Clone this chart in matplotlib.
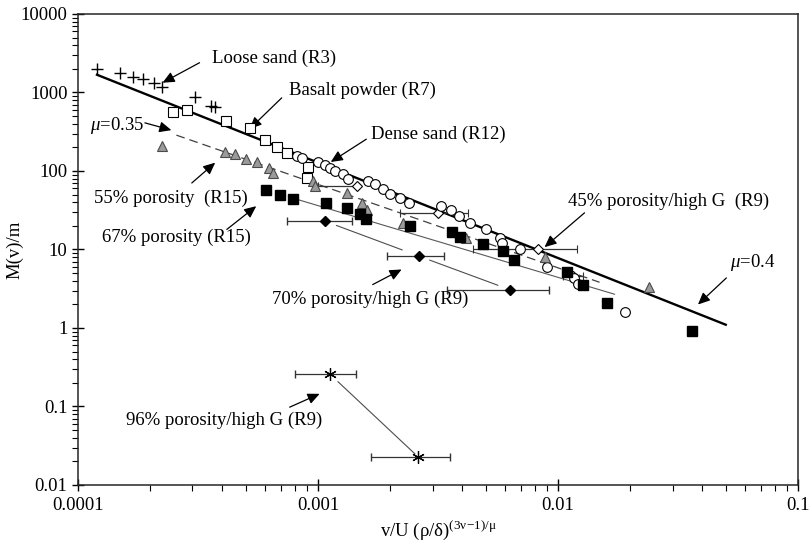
import matplotlib
matplotlib.use("Agg")
import matplotlib.pyplot as plt

plt.rcParams["font.family"] = ["Liberation Serif", "DejaVu Serif"]
plt.rcParams["mathtext.fontset"] = "custom"
plt.rcParams["mathtext.rm"] = "Liberation Serif"
plt.rcParams["mathtext.it"] = "Liberation Serif:italic"

# loose sand (R3)
loose_x = [1.20e-4, 1.49e-4, 1.70e-4, 1.87e-4, 2.07e-4, 2.24e-4, 3.06e-4, 3.59e-4, 3.72e-4]
loose_y = [1990, 1750, 1590, 1480, 1320, 1180, 864, 676, 662]

# basalt powder (R7)
basalt_x = [2.48e-4, 2.84e-4, 4.12e-4, 5.19e-4, 6.00e-4, 6.73e-4, 7.41e-4, 9.06e-4, 8.97e-4]
basalt_y = [567, 601, 435, 354, 249, 203, 170, 112, 81.5]

# dense sand (R12)
dense_x = [8.15e-4, 8.55e-4, 9.97e-4, 1.066e-3, 1.119e-3, 1.175e-3, 1.268e-3, 1.33e-3,
           1.61e-3, 1.72e-3, 1.86e-3, 1.99e-3, 2.19e-3, 2.39e-3, 3.24e-3, 3.57e-3,
           3.86e-3, 4.28e-3, 5.00e-3, 5.71e-3, 5.83e-3, 6.92e-3, 8.97e-3, 1.17e-2,
           1.21e-2, 1.90e-2]
dense_y = [155, 147, 130, 119, 109, 100, 91.6, 79.1, 74.5, 68.2, 58.9, 50.8, 45.2, 39.0,
           35.7, 31.8, 26.6, 21.7, 18.2, 13.9, 12.0, 10.1, 5.93, 4.29, 3.6, 1.58]

# 55% porosity (R15)
p55_x = [2.24e-4, 4.11e-4, 4.50e-4, 5.03e-4, 5.55e-4, 6.25e-4, 6.47e-4, 9.55e-4, 9.73e-4,
         1.318e-3, 1.53e-3, 1.60e-3, 2.26e-3, 4.12e-3, 8.79e-3, 2.39e-2]
p55_y = [208, 175, 165, 142, 129, 108, 92.9, 73.8, 64.3, 52.3, 39.4, 31.8, 21.7, 14.1, 8.09, 3.30]

# 67% porosity (R15)
p67_x = [6.10e-4, 6.92e-4, 7.87e-4, 1.077e-3, 1.326e-3, 1.49e-3, 1.59e-3, 2.41e-3, 3.60e-3,
         3.91e-3, 4.89e-3, 5.92e-3, 6.58e-3, 1.087e-2, 1.276e-2, 1.60e-2, 3.63e-2]
p67_y = [56.7, 48.9, 44.3, 39.4, 33.4, 28.0, 24.2, 19.8, 16.9, 14.4, 11.7, 9.5, 7.35, 5.09,
         3.57, 2.06, 0.905]

# 45% porosity / high G (R9)
p45_x = [1.45e-3, 3.16e-3, 8.26e-3, 1.16e-2]
p45_y = [64.3, 29.0, 10.0, 4.56]
p45_err_lo = [4.5e-4, 0.97e-3, 3.84e-3, 1.15e-3]
p45_err_hi = [0.0, 1.06e-3, 3.79e-3, 1.15e-3]

# 70% porosity / high G (R9)
p70_x = [1.066e-3, 2.64e-3, 6.29e-3]
p70_y = [23.0, 8.2, 3.08]
p70_err = [3.2e-4, 0.70e-3, 2.85e-3]

# 96% porosity / high G (R9)
p96_x = [1.12e-3, 2.61e-3]
p96_y = [0.259, 0.0229]
p96_err = [3.15e-4, 0.94e-3]

# fitted lines
mu04_x = [1.2e-4, 5.0e-2]
mu04_y = [1680, 1.10]
mu035_x = [2.57e-4, 1.49e-2]
mu035_y = [286, 3.82]
fit67_x = [7.84e-4, 1.72e-2]
fit67_y = [45.2, 2.69]

xtick_vals = [1e-4, 1e-3, 1e-2, 1e-1]
xtick_labels = ["0.0001", "0.001", "0.01", "0.1"]
ytick_vals = [0.01, 0.1, 1, 10, 100, 1000, 10000]
ytick_labels = ["0.01", "0.1", "1", "10", "100", "1000", "10000"]

# label text, text anchor, arrow tail, arrow head
notes = [
    ("Loose sand (R3)", (3.6e-4, 2690), (3.21e-4, 2393), (2.25e-4, 1330)),
    ("Basalt powder (R7)", (7.55e-4, 1052), (7.06e-4, 853), (5.19e-4, 343)),
    ("Dense sand (R12)", (1.67e-3, 294), (1.59e-3, 254), (1.13e-3, 130)),
    (r"$\mu$=0.35", (1.12e-4, 374), (1.90e-4, 410), (2.45e-4, 331)),
    ("55% porosity  (R15)", (1.17e-4, 45), (2.98e-4, 70.3), (3.73e-4, 127.6)),
    ("67% porosity (R15)", (1.256e-4, 14.1), (4.17e-4, 18.0), (5.53e-4, 35.6)),
    ("45% porosity/high G  (R9)", (1.096e-2, 41.4), (1.29e-2, 29.3), (8.79e-3, 10.7)),
    (r"$\mu$=0.4", (5.2e-2, 6.74), (5.03e-2, 4.34), (3.83e-2, 1.99)),
    ("70% porosity/high G (R9)", (6.46e-4, 2.31), (1.69e-3, 3.57), (2.23e-3, 5.56)),
    ("96% porosity/high G (R9)", (1.59e-4, 0.0665), (7.62e-4, 0.098), (1.016e-3, 0.145)),
]

fs = 13.5

fig = plt.figure(figsize=(8.09, 5.49), dpi=100)
ax = fig.add_axes([0.0964, 0.1166, 0.89, 0.858])
ax.set_xscale("log")
ax.set_yscale("log")

ax.plot(mu04_x, mu04_y, color="black", lw=1.7, zorder=2)
ax.plot(mu035_x, mu035_y, color="0.25", lw=0.9, dashes=(7, 4), zorder=2)
ax.plot(fit67_x, fit67_y, color="0.35", lw=0.8, zorder=2)

# connecting lines with small gaps round the markers
for (x0, y0), (x1, y1), sa, sb in [
    ((p70_x[0], p70_y[0]), (p70_x[1], p70_y[1]), 9, 13),
    ((p70_x[1], p70_y[1]), (p70_x[2], p70_y[2]), 8, 9),
    ((p96_x[0], p96_y[0]), (p96_x[1], p96_y[1]), 8, 3),
]:
    ax.annotate("", xy=(x1, y1), xytext=(x0, y0),
                arrowprops=dict(arrowstyle="-", color="0.3", lw=0.8, shrinkA=sa, shrinkB=sb))

ax.errorbar(p45_x, p45_y, xerr=[p45_err_lo, p45_err_hi], fmt="D", ms=5.5, mfc="white",
            mec="black", mew=0.8, ecolor="0.2", elinewidth=0.9, capsize=3, zorder=3)
ax.errorbar(p70_x, p70_y, xerr=p70_err, fmt="D", ms=5.5, mfc="black", mec="black",
            ecolor="0.2", elinewidth=0.9, capsize=3, zorder=3)
ax.errorbar(p96_x, p96_y, xerr=p96_err, fmt="none", ecolor="0.2", elinewidth=0.9,
            capsize=3, zorder=3)
ax.plot(p96_x, p96_y, ls="none", marker=(6, 2, 0), ms=9, mec="black", mew=0.9, zorder=4)

ax.plot(loose_x, loose_y, ls="none", marker="+", ms=8, mew=1.0, color="black", zorder=4)
ax.plot(basalt_x, basalt_y, ls="none", marker="s", ms=7, mfc="white", mec="black",
        mew=0.8, zorder=4)
ax.plot(dense_x, dense_y, ls="none", marker="o", ms=7, mfc="white", mec="black",
        mew=0.8, zorder=4)
ax.plot(p55_x, p55_y, ls="none", marker="^", ms=7.5, mfc="#9a9a9a", mec="#4a4a4a",
        mew=0.8, zorder=4)
ax.plot(p67_x, p67_y, ls="none", marker="s", ms=6.5, mfc="black", mec="black", zorder=4)

for text, pos, tail, head in notes:
    ax.text(pos[0], pos[1], text, ha="left", va="center", fontsize=fs)
    ax.annotate("", xy=head, xytext=tail,
                arrowprops=dict(arrowstyle="-|>,head_length=0.55,head_width=0.25",
                                color="black", lw=0.9, mutation_scale=13,
                                shrinkA=0, shrinkB=0))

ax.set_xlim(1e-4, 1e-1)
ax.set_ylim(0.01, 10000)
ax.set_xticks(xtick_vals)
ax.set_xticklabels(xtick_labels)
ax.set_yticks(ytick_vals)
ax.set_yticklabels(ytick_labels)
ax.tick_params(which="major", direction="inout", length=8, width=1, labelsize=fs)
ax.tick_params(which="minor", direction="out", length=4, width=0.8)
ax.tick_params(axis="x", which="major", pad=5)
for s in ax.spines.values():
    s.set_linewidth(1.1)
    s.set_color("0.15")

ax.set_xlabel(r"v/U (ρ/δ)$^{\mathrm{(3ν\!-\!1)/μ}}$", fontsize=fs, labelpad=3)
ax.set_ylabel("M(v)/m", fontsize=fs)
ax.yaxis.set_label_coords(-0.076, 0.5)

fig.savefig("out.png", dpi=100)
